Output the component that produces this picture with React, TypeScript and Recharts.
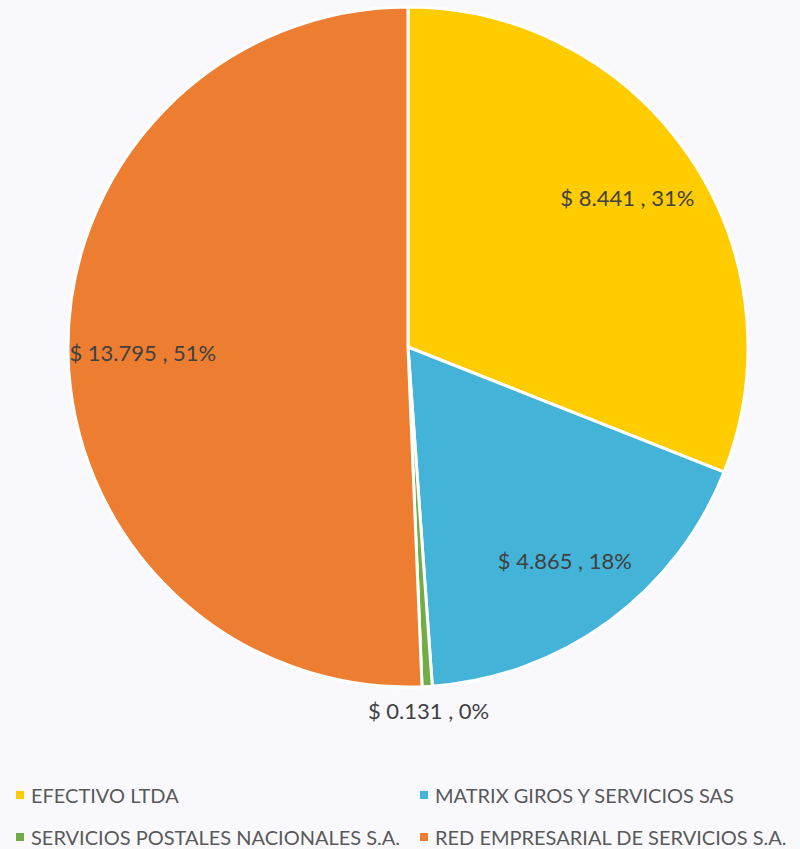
import { Legend, Pie, PieChart, Cell } from "recharts";

const companies = [
  "EFECTIVO LTDA",
  "MATRIX GIROS Y SERVICIOS SAS",
  "SERVICIOS POSTALES NACIONALES S.A.",
  "RED EMPRESARIAL DE SERVICIOS S.A.",
];
const amounts = [8.441, 4.865, 0.131, 13.795];
const amountLabels = ["8.441", "4.865", "0.131", "13.795"];
const percents = ["31%", "18%", "0%", "51%"];
const colors = ["#FFCC00", "#44B3D8", "#70AD47", "#ED7D31"];

const data = companies.map((name, i) => ({ name, value: amounts[i] }));

const FONT = "Lato, 'Open Sans', sans-serif";
const RADIAN = Math.PI / 180;

function renderLabel(props: any) {
  const { cx, cy, midAngle, outerRadius, index } = props;
  const small = amounts[index] < 1;
  const r = small ? outerRadius + 24 : outerRadius * 0.78;
  const x = cx + r * Math.cos(-midAngle * RADIAN);
  const y = cy + r * Math.sin(-midAngle * RADIAN);
  return (
    <text
      x={x}
      y={y}
      textAnchor="middle"
      dominantBaseline="central"
      fill="#404040"
      fontSize={22}
      fontFamily={FONT}
    >
      {`$ ${amountLabels[index]} , ${percents[index]}`}
    </text>
  );
}

function LegendBox() {
  return (
    <div
      style={{
        display: "grid",
        gridTemplateColumns: "404px 396px",
        rowGap: 18,
        fontFamily: FONT,
        fontSize: 20,
        color: "#595959",
      }}
    >
      {companies.map((name, i) => (
        <div key={name} style={{ display: "flex", alignItems: "center", paddingLeft: 16 }}>
          <span
            style={{
              width: 8,
              height: 8,
              flexShrink: 0,
              background: colors[i],
              display: "inline-block",
              marginRight: 7,
            }}
          />
          <span style={{ whiteSpace: "nowrap" }}>{name}</span>
        </div>
      ))}
    </div>
  );
}

export default function App() {
  return (
    <div
      style={{
        position: "fixed",
        top: 0,
        left: 0,
        width: 800,
        height: 849,
        background: "#F9F9FD",
      }}
    >
      <PieChart width={800} height={849}>
        <Pie
          data={data}
          dataKey="value"
          nameKey="name"
          cx={403}
          cy={342}
          outerRadius={340}
          startAngle={90}
          endAngle={-270}
          stroke="#FFFFFF"
          strokeWidth={3}
          label={renderLabel}
          labelLine={false}
          isAnimationActive={false}
        >
          {data.map((_, i) => (
            <Cell key={i} fill={colors[i]} />
          ))}
        </Pie>
        <Legend
          verticalAlign="bottom"
          align="left"
          content={() => <LegendBox />}
          wrapperStyle={{ left: 0, bottom: 0, width: 800, height: 66 }}
        />
      </PieChart>
    </div>
  );
}
